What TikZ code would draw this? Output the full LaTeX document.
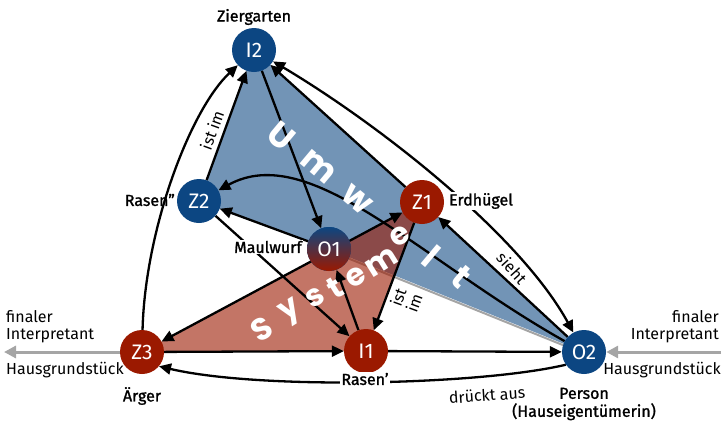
\documentclass[tikz,border=0pt]{standalone}
\usepackage{fontspec}
\setmainfont{Fira Sans}
\newfontfamily\medfont{Fira Sans}[FakeBold=1.3]
\newfontfamily\bigfont{Poppins}
\usetikzlibrary{arrows.meta}
\pgfdeclarelayer{bg}
\pgfdeclarelayer{lines}
\pgfsetlayers{bg,lines,main}
\definecolor{nblue}{RGB}{12,70,130}
\definecolor{nred}{RGB}{155,25,0}
\definecolor{garrow}{RGB}{165,165,165}
\begin{document}
\begin{tikzpicture}[x=1pt,y=-1pt,
  bn/.style={circle, fill=nblue, text=white, minimum size=44pt, inner sep=0pt, font=\fontsize{21}{21}\selectfont},
  rn/.style={bn, fill=nred},
  arr/.style={line width=2.3pt, -{Triangle[length=12pt,width=11pt]}},
  darr/.style={line width=2.3pt, {Triangle[length=12pt,width=11pt]}-{Triangle[length=12pt,width=11pt]}},
  garr/.style={draw=garrow, line width=3pt, -{Triangle[length=12pt,width=12pt]}},
  lab/.style={font=\medfont\fontsize{16}{18}\selectfont, inner sep=1pt},
  reg/.style={font=\fontsize{16}{17}\selectfont, inner sep=1pt},
  bigu/.style={text=white, font=\bigfont\bfseries\fontsize{34}{34}\selectfont, inner sep=0pt},
  bigs/.style={text=white, font=\bigfont\bfseries\fontsize{31}{31}\selectfont, inner sep=0pt}
]
\useasboundingbox (0,0) rectangle (723,426);

% nodes
\node[bn] (I2) at (254,50) {I2};
\node[bn] (Z2) at (199,201) {Z2};
\node[rn] (Z1) at (422,202) {Z1};
\node[bn, top color=nblue, bottom color=nred] (O1) at (329,249) {O1};
\node[rn] (Z3) at (142,352) {Z3};
\node[rn] (I1) at (366,351) {I1};
\node[bn] (O2) at (584,352) {O2};

% fills
\begin{pgfonlayer}{bg}
\draw[garrow, line width=2pt] ([yshift=-1.6pt]O1.center) -- ([yshift=-1.6pt]O2.center);
\fill[nblue, opacity=0.58] (I2.center) -- (Z1.center) -- (O2.center) -- (O1.center) -- (Z2.center) -- cycle;
\fill[nred, opacity=0.6] (Z3.center) -- (Z1.center) -- (I1.center) -- cycle;
\end{pgfonlayer}

% connectors
\begin{pgfonlayer}{lines}
\draw[arr] (I2) -- (O1);
\draw[arr] (O1) -- (Z2);
\draw[arr] (Z2) -- (I2);
\draw[arr] (Z1) -- (I2);
\draw[arr] (O2) -- (Z1);
\draw[arr] (Z3) .. controls (145,230) and (190,110) .. (I2);
\draw[darr] (I2) .. controls (380,125) and (520,235) .. (O2);
\draw[arr] (O2) .. controls (420,260) and (310,140) .. (Z2);
\draw[arr] (Z2) -- (I1);
\draw[arr] (I1) -- (O1);
\draw[arr] (Z1) -- (I1);
\draw[darr] (Z3) -- (Z1);
\draw[arr] (Z3) -- (I1);
\draw[arr] (I1) -- (O2);
\draw[arr] (O2.215) .. controls (480,385) and (260,390) .. (Z3.-40);
\coordinate (gl) at (4,352);
\coordinate (gr) at (721,352);
\draw[garr] (Z3) -- (gl);
\draw[garr] (gr) -- (O2);
\end{pgfonlayer}

% big letters
\node[bigu, rotate=-40] (u1) at (281,136) {U};
\node[bigu, rotate=-40] (u2) at (318,167) {m};
\node[bigu, rotate=-40] (u3) at (357,200) {w};
\node[bigu, rotate=-40] (u5) at (431,256) {l};
\node[bigu, rotate=-40] (u6) at (461,277) {t};
\node[bigs, rotate=32] (s1) at (262,329) {S};
\node[bigs, rotate=32] (s2) at (291,312) {y};
\node[bigs, rotate=32] (s3) at (315,298) {s};
\node[bigs, rotate=32] (s4) at (335,288) {t};
\node[bigs, rotate=32] (s5) at (356,277) {e};
\node[bigs, rotate=32] (s6) at (382,262) {m};
\node[bigs, rotate=32] (s7) at (400,236) {e};

% labels
\node[lab] (zg) at (254,17) {Ziergarten};
\node[lab, anchor=east] (r2) at (176,200) {Rasen”};
\node[lab, fill=white] (eh) at (481,201) {Erdhügel};
\node[lab, fill=white] (mw) at (268,247) {Maulwurf};
\node[lab] (ae) at (142,396) {Ärger};
\node[lab, align=center] (ps) at (584,404) {Person\\(Hauseigentümerin)};
\node[lab, fill=white] (r1) at (365,379) {Rasen’};
\node[reg, rotate=4] (da) at (487,395) {drückt aus};
\node[reg, rotate=70] (ist1) at (212,130) {ist im};
\node[reg, rotate=70, align=left] (ist2) at (406,300) {ist\\im};
\node[reg, rotate=-48] (si) at (512,268) {sieht};
\node[reg, align=left, anchor=west] (fl) at (5,327) {finaler\\Interpretant};
\node[reg, anchor=west] (hl) at (5,370) {Hausgrundstück};
\node[reg, align=right, anchor=east] (fr) at (720,327) {finaler\\Interpretant};
\node[reg, anchor=east] (hr) at (722,370) {Hausgrundstück};
\end{tikzpicture}
\end{document}
